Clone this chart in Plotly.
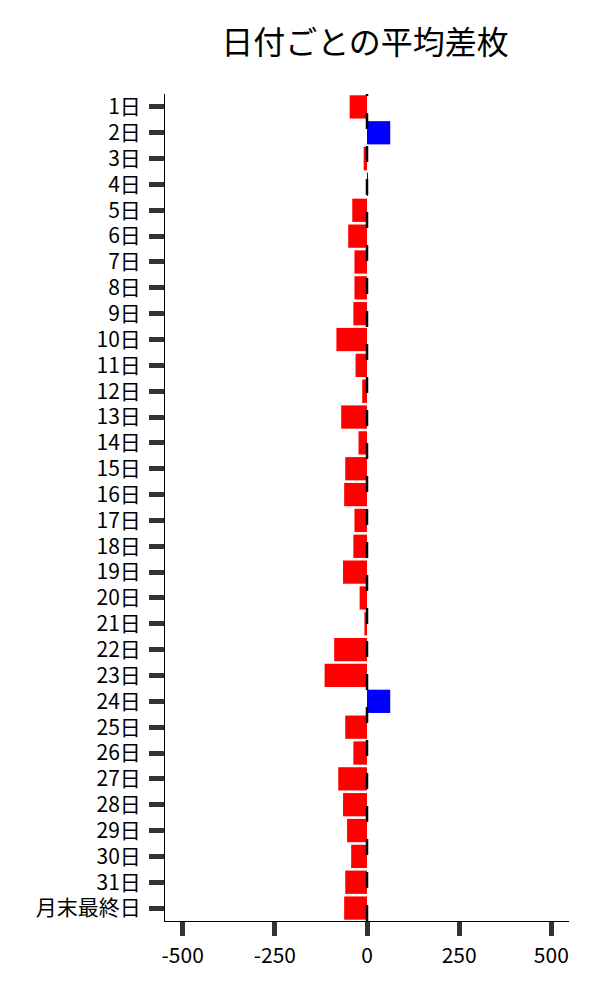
import plotly.graph_objects as go

days = [f"{i}日" for i in range(1, 32)] + ["月末最終日"]
values = [-47, 63, -9, 1, -40, -51, -34, -34, -37, -83, -31, -13, -70, -23, -59, -62,
          -34, -37, -65, -20, -7, -89, -115, 63, -59, -37, -78, -65, -54, -43, -59, -62]
tick_vals = [-500, -250, 0, 250, 500]
title_text = "日付ごとの平均差枚"

colors = ["#0000ff" if v > 0 else "#ff0000" for v in values]

font_family = "Noto Sans CJK JP"

fig = go.Figure(
    go.Bar(
        x=values,
        y=days,
        orientation="h",
        marker=dict(color=colors, line=dict(width=0)),
    )
)

fig.add_shape(
    type="line", xref="x", yref="paper", x0=0, x1=0, y0=0, y1=1,
    line=dict(color="black", width=2.5, dash="16px,17px"), layer="above",
)

fig.update_layout(
    width=600, height=1000,
    margin=dict(l=157, r=39, t=86, b=87),
    paper_bgcolor="white", plot_bgcolor="white",
    bargap=0.1,
    showlegend=False,
    font=dict(family=font_family, size=21, color="black"),
    title=dict(text=title_text, x=0.595, xanchor="center", y=0.965, yanchor="middle",
               font=dict(family=font_family, size=32, color="black")),
)

fig.update_xaxes(
    range=[-548, 548], tickvals=tick_vals, ticktext=[str(t) for t in tick_vals],
    showgrid=False, zeroline=False, showline=True, linecolor="black", linewidth=1,
    ticks="outside", ticklen=14, tickwidth=5, tickcolor="#333",
    ticklabelstandoff=2,
    tickfont=dict(family=font_family, size=21, color="black"),
)
fig.update_yaxes(
    autorange="reversed", showgrid=False, zeroline=False, showline=True,
    linecolor="black", linewidth=1,
    ticks="outside", ticklen=15, tickwidth=5, tickcolor="#333",
    ticklabelstandoff=4,
    tickfont=dict(family=font_family, size=21, color="black"),
)

fig.write_html("out.html")
